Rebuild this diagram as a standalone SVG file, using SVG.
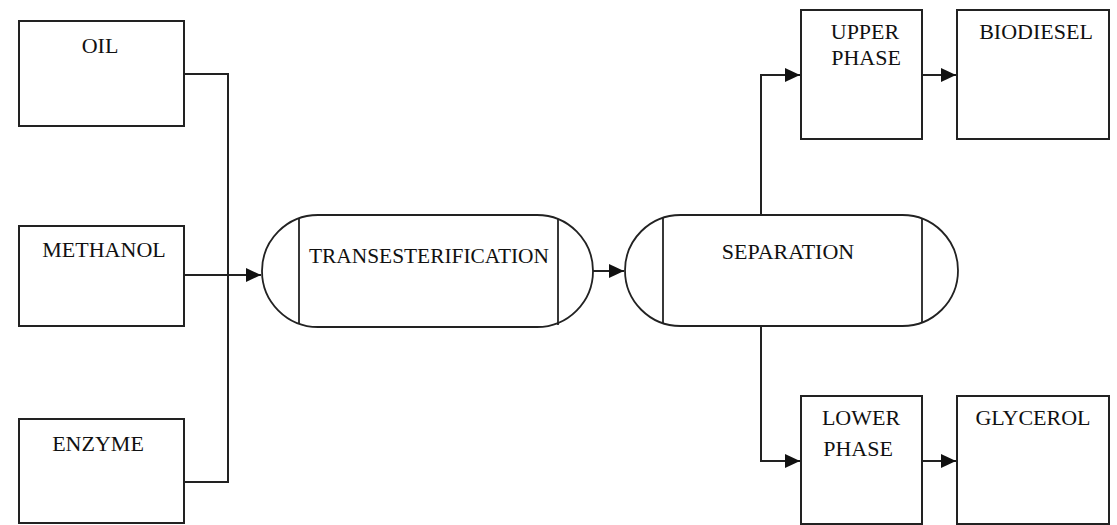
<svg xmlns="http://www.w3.org/2000/svg" width="1117" height="525" viewBox="0 0 1117 525">
<style>
.box{fill:#fff;stroke:#222;stroke-width:2}
.vessel{fill:#fff;stroke:#222;stroke-width:1.8}
.inner{stroke:#222;stroke-width:1.8}
.lbl{font-family:"Liberation Serif","Times New Roman",serif;font-size:22px;fill:#111;text-anchor:middle}
.wire{fill:none;stroke:#222;stroke-width:2}
</style>
<defs>
<marker id="ah" markerUnits="userSpaceOnUse" markerWidth="16" markerHeight="14" refX="15" refY="7" orient="auto">
<path d="M0,0 L15,7 L0,14 Z" fill="#111"/>
</marker>
</defs>
<rect width="1117" height="525" fill="#fff"/>
<g id="connectors">
<polyline class="wire" points="184,74 228,74 228,482 184,482"/>
<line class="wire" x1="184" y1="275" x2="261" y2="275" marker-end="url(#ah)"/>
<line class="wire" x1="593" y1="271" x2="624" y2="271" marker-end="url(#ah)"/>
<polyline class="wire" points="761,215 761,75 800,75" marker-end="url(#ah)"/>
<polyline class="wire" points="761,326 761,461 800,461" marker-end="url(#ah)"/>
<line class="wire" x1="922" y1="75" x2="956" y2="75" marker-end="url(#ah)"/>
<line class="wire" x1="918" y1="461" x2="956" y2="461" marker-end="url(#ah)"/>
</g>
<g id="oil">
<rect class="box" x="19" y="21" width="165" height="105"/>
<text class="lbl" x="100" y="53">OIL</text>
</g>
<g id="methanol">
<rect class="box" x="19" y="226" width="165" height="100"/>
<text class="lbl" x="104" y="257">METHANOL</text>
</g>
<g id="enzyme">
<rect class="box" x="19" y="419" width="165" height="104"/>
<text class="lbl" x="98" y="451">ENZYME</text>
</g>
<g id="transesterification">
<rect class="vessel" x="262" y="215" width="331" height="112" rx="56" ry="56"/>
<line class="inner" x1="299" y1="218" x2="299" y2="324"/>
<line class="inner" x1="558" y1="219" x2="558" y2="325"/>
<text class="lbl" x="429" y="263" textLength="240" lengthAdjust="spacingAndGlyphs">TRANSESTERIFICATION</text>
</g>
<g id="separation">
<rect class="vessel" x="625" y="215" width="333" height="111" rx="55.5" ry="55.5"/>
<line class="inner" x1="663" y1="218" x2="663" y2="323"/>
<line class="inner" x1="922" y1="219" x2="922" y2="322"/>
<text class="lbl" x="788" y="259">SEPARATION</text>
</g>
<g id="upper-phase">
<rect class="box" x="801" y="10" width="121" height="129"/>
<text class="lbl" x="865" y="39">UPPER</text>
<text class="lbl" x="866" y="65">PHASE</text>
</g>
<g id="biodiesel">
<rect class="box" x="957" y="10" width="152" height="129"/>
<text class="lbl" x="1036" y="39">BIODIESEL</text>
</g>
<g id="lower-phase">
<rect class="box" x="801" y="396" width="121" height="128"/>
<text class="lbl" x="861" y="425">LOWER</text>
<text class="lbl" x="858" y="456">PHASE</text>
</g>
<g id="glycerol">
<rect class="box" x="957" y="396" width="152" height="128"/>
<text class="lbl" x="1033" y="425">GLYCEROL</text>
</g>
</svg>
